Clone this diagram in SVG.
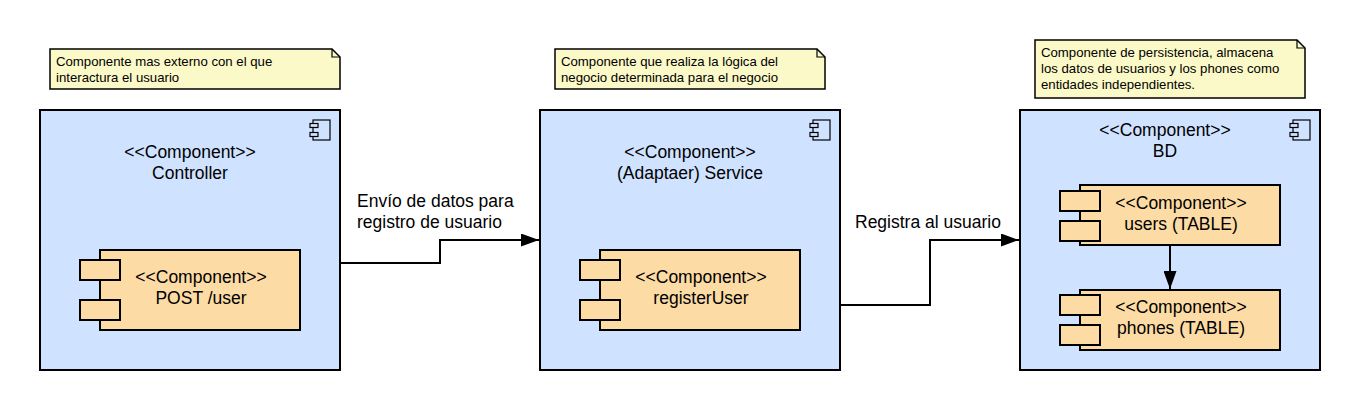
<svg xmlns="http://www.w3.org/2000/svg" width="1360" height="410" viewBox="0 0 1360 410">
<style>
.outer{fill:#cfe2ff;stroke:#000;stroke-width:2}
.inner{fill:#fcdba5;stroke:#000;stroke-width:2}
.note{fill:#fbf9c8;stroke:#000;stroke-width:1.5}
.icon{fill:none;stroke:#000;stroke-width:1.2}
.t{font-family:"Liberation Sans",Arial,sans-serif;font-size:17.5px;fill:#000}
.c{text-anchor:middle}
.n{font-family:"Liberation Sans",Arial,sans-serif;font-size:13.2px;fill:#000}
.line{fill:none;stroke:#000;stroke-width:2}
</style>
<defs>
<marker id="arr" markerWidth="10" markerHeight="8" refX="9.5" refY="4" orient="auto" markerUnits="userSpaceOnUse" viewBox="0 0 10 8">
<path d="M0,0 L10,4 L0,8 Z" fill="#000"/>
</marker>
<marker id="arrL" markerWidth="18" markerHeight="13" refX="18" refY="6.5" orient="auto" markerUnits="userSpaceOnUse">
<path d="M0,0 L18,6.5 L0,13 Z" fill="#000"/>
</marker>
<g id="compIcon">
<rect x="3" y="0" width="17" height="20" class="icon" fill="#cfe2ff"/>
<rect x="0" y="3.5" width="8" height="4" class="icon" style="fill:#cfe2ff"/>
<rect x="0" y="12.5" width="8" height="4" class="icon" style="fill:#cfe2ff"/>
</g>
</defs>

<g id="note1">
<path class="note" d="M50,49 H332 L340,57 V89 H50 Z"/>
<path d="M332,49 V57 H340" fill="none" stroke="#000" stroke-width="1.2"/>
<text class="n" x="56" y="66">Componente mas externo con el que</text>
<text class="n" x="56" y="82">interactura el usuario</text>
</g>

<g id="note2">
<path class="note" d="M555,49 H817 L825,57 V89 H555 Z"/>
<path d="M817,49 V57 H825" fill="none" stroke="#000" stroke-width="1.2"/>
<text class="n" x="561" y="66">Componente que realiza la lógica del</text>
<text class="n" x="561" y="82">negocio determinada para el negocio</text>
</g>

<g id="note3">
<path class="note" d="M1035,40 H1297 L1305,48 V98 H1035 Z"/>
<path d="M1297,40 V48 H1305" fill="none" stroke="#000" stroke-width="1.2"/>
<text class="n" x="1041" y="57">Componente de persistencia, almacena</text>
<text class="n" x="1041" y="73">los datos de usuarios y los phones como</text>
<text class="n" x="1041" y="89">entidades independientes.</text>
</g>

<g id="controller">
<rect class="outer" x="40" y="110" width="300" height="260"/>
<use href="#compIcon" x="310" y="120"/>
<text class="t c" x="190" y="158">&lt;&lt;Component&gt;&gt;</text>
<text class="t c" x="190" y="179">Controller</text>
</g>
<g id="postUser">
<rect class="inner" x="100" y="250" width="200" height="80"/>
<rect class="inner" x="80" y="260" width="40" height="20"/>
<rect class="inner" x="80" y="300" width="40" height="20"/>
<text class="t c" x="201" y="283">&lt;&lt;Component&gt;&gt;</text>
<text class="t c" x="201" y="304">POST /user</text>
</g>

<g id="service">
<rect class="outer" x="540" y="110" width="300" height="260"/>
<use href="#compIcon" x="810" y="120"/>
<text class="t c" x="690" y="158">&lt;&lt;Component&gt;&gt;</text>
<text class="t c" x="690" y="179">(Adaptaer) Service</text>
</g>
<g id="registerUser">
<rect class="inner" x="600" y="250" width="200" height="80"/>
<rect class="inner" x="580" y="260" width="40" height="20"/>
<rect class="inner" x="580" y="300" width="40" height="20"/>
<text class="t c" x="701" y="283">&lt;&lt;Component&gt;&gt;</text>
<text class="t c" x="701" y="304">registerUser</text>
</g>

<g id="bd">
<rect class="outer" x="1020" y="110" width="300" height="260"/>
<use href="#compIcon" x="1290" y="120"/>
<text class="t c" x="1165" y="136">&lt;&lt;Component&gt;&gt;</text>
<text class="t c" x="1165" y="157">BD</text>
</g>
<g id="users">
<rect class="inner" x="1080" y="185" width="200" height="60"/>
<rect class="inner" x="1060" y="191" width="40" height="20"/>
<rect class="inner" x="1060" y="221" width="40" height="20"/>
<text class="t c" x="1181" y="209">&lt;&lt;Component&gt;&gt;</text>
<text class="t c" x="1181" y="230">users (TABLE)</text>
</g>
<g id="phones">
<rect class="inner" x="1080" y="290" width="200" height="60"/>
<rect class="inner" x="1060" y="295" width="40" height="20"/>
<rect class="inner" x="1060" y="325" width="40" height="20"/>
<text class="t c" x="1181" y="313">&lt;&lt;Component&gt;&gt;</text>
<text class="t c" x="1181" y="334">phones (TABLE)</text>
</g>

<g id="connectors">
<polyline class="line" points="341,263 440,263 440,240 539,240" marker-end="url(#arrL)"/>
<text class="t" x="357" y="207">Envío de datos para</text>
<text class="t" x="357" y="228">registro de usuario</text>
<polyline class="line" points="841,305 930,305 930,240 1019,240" marker-end="url(#arrL)"/>
<text class="t" x="855" y="228">Registra al usuario</text>
<line class="line" x1="1170" y1="246" x2="1170" y2="289" marker-end="url(#arrL)"/>
</g>
</svg>
